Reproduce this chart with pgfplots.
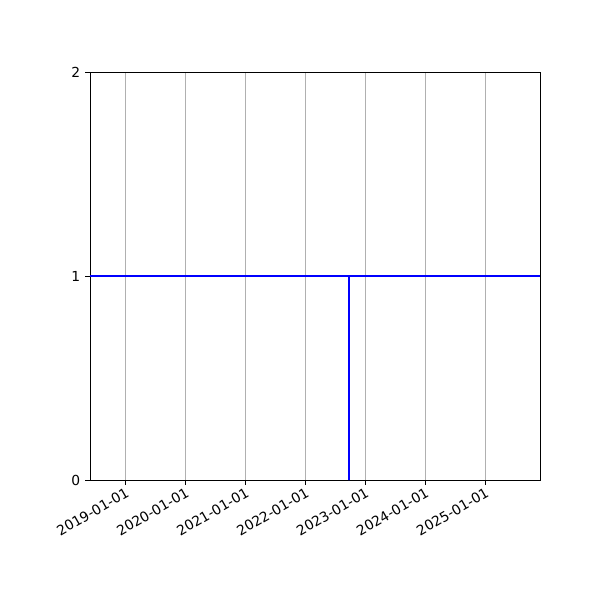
\documentclass[border=0pt]{standalone}
\usepackage{pgfplots}
\pgfplotsset{compat=1.18}
\usepackage{fontspec}
\setmainfont{DejaVu Sans}
\begin{document}
\begin{tikzpicture}
\begin{axis}[
  at={(0,0)}, anchor=south west,
  scale only axis,
  width=4.5in, height=4.08in,
  xmin=-216, xmax=2525,
  ymin=0, ymax=2,
  xtick={0,365,731,1096,1461,1826,2192},
  xticklabels={2019-01-01,2020-01-01,2021-01-01,2022-01-01,2023-01-01,2024-01-01,2025-01-01},
  ytick={0,1,2},
  xtick pos=lower, ytick pos=left,
  tick align=outside,
  major tick length=3.5pt,
  tick style={black, line width=0.7pt},
  axis line style={line width=0.7pt},
  xmajorgrids=true,
  major x grid style={color=black!31, line width=0.8pt},
  xticklabel style={rotate=30, anchor=north east, inner sep=1pt, font=\fontsize{10}{12}\selectfont},
  yticklabel style={font=\fontsize{10}{12}\selectfont},
  /pgf/number format/assume math mode=true,
  clip=true,
]
\addplot[blue, line width=1.8pt, mark=none] coordinates {
  (-216,1) (1363,1) (1363,0) (1363,1) (2525,1)
};
\end{axis}
\pgfresetboundingbox
\path[use as bounding box] (-0.9in,-1.2in) rectangle (5.1in,4.8in);
\end{tikzpicture}
\end{document}
